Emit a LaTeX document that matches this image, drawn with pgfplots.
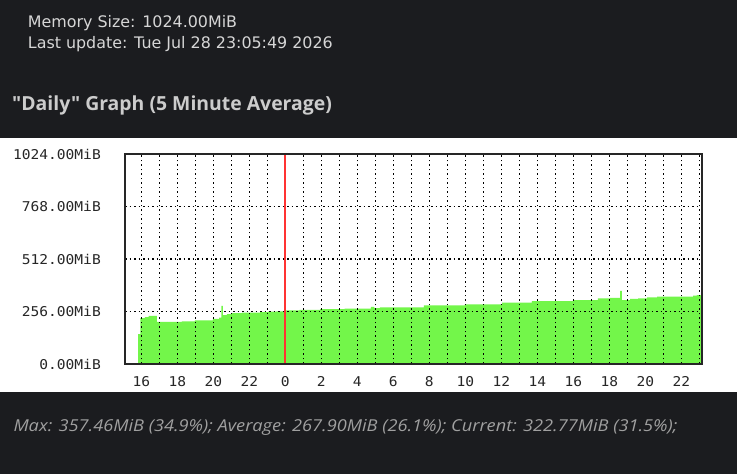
\documentclass[border=0pt]{standalone}
\usepackage{fontspec}
\usepackage{pgfplots}
\pgfplotsset{compat=1.18}
\setmainfont{Open Sans}
\newfontfamily\hdrf{DejaVu Sans}
\newfontfamily\ttlf[Ligatures=TeXOff]{Open Sans}
\newfontfamily\footf[FakeStretch=1.11]{Open Sans}
\newfontfamily\monof[FakeStretch=1.08]{DejaVu Sans Mono}
\definecolor{bg}{RGB}{27,28,31}
\definecolor{hdr}{RGB}{214,214,214}
\definecolor{ttl}{RGB}{204,204,204}
\definecolor{ftr}{RGB}{160,160,160}
\definecolor{mrtggreen}{RGB}{115,246,74}
\begin{document}
\begin{tikzpicture}[x=1pt,y=1pt]
\fill[bg] (0,0) rectangle (737,474);
\fill[white] (0,82) rectangle (737,336);
\node[anchor=base west, inner sep=0, text=hdr, font=\hdrf\fontsize{15.9}{18}\selectfont] at (27.7,446.7) {Memory Size: 1024.00MiB};
\node[anchor=base west, inner sep=0, text=hdr, font=\hdrf\fontsize{15.9}{18}\selectfont] at (27.7,425.3) {Last update: Tue Jul 28 23:05:49 2026};
\node[anchor=base west, inner sep=0, text=ttl, font=\ttlf\fontsize{19.4}{22}\selectfont\bfseries] at (12,363) {"Daily" Graph (5 Minute Average)};
\node[anchor=base west, inner sep=0, text=ftr, font=\footf\fontsize{16.4}{18}\selectfont\itshape] at (13.3,42.3) {Max: 357.46MiB (34.9\%); Average: 267.90MiB (26.1\%); Current: 322.77MiB (31.5\%);};
\begin{axis}[
  at={(125pt,110pt)}, anchor=south west,
  scale only axis, width=577pt, height=210pt,
  xmin=15.094, xmax=47.15, ymin=0, ymax=1024,
  axis on top,
  axis line style={line width=1.5pt, draw=black!85},
  xtick={16,18,...,46},
  xticklabels={16,18,20,22,0,2,4,6,8,10,12,14,16,18,20,22},
  minor xtick={16,17,18,19,20,21,22,23,25,26,27,28,29,30,31,32,33,34,35,36,37,38,39,40,41,42,43,44,45,46,47},
  ytick={0,256,512,768,1024},
  yticklabels={0.00MiB,256.00MiB,512.00MiB,768.00MiB,1024.00MiB},
  xmajorgrids=false, xminorgrids=true, ymajorgrids=true,
  major tick length=0pt, minor tick length=0pt,
  grid style={draw=black, line width=1.5pt, dash pattern=on 1.5pt off 3pt},
  minor grid style={draw=black, line width=1.5pt, dash pattern=on 1.5pt off 3pt},
  /pgf/number format/assume math mode=true,
  ticklabel style={font=\monof\fontsize{13.5}{14}\selectfont, text=black!85},
  xticklabel style={anchor=north, inner sep=0pt, yshift=-12pt},
  yticklabel style={anchor=east, inner sep=0pt, xshift=-24pt},
]
\addplot[const plot, fill=mrtggreen, draw=none] coordinates {
(15.83,146) (15.95,224) (16.20,229) (16.40,235) (16.87,205) (17.60,206)
(18.26,208) (18.98,213) (19.98,220) (20.32,226) (20.45,283) (20.53,238)
(20.75,243) (21.04,248) (21.60,250) (22.04,251) (22.60,253) (23.04,255)
(23.50,257) (24.00,262) (24.80,264) (25.93,268) (27.30,270) (28.76,279)
(28.95,273) (29.25,276) (31.70,286) (33.98,291) (36.04,299) (37.70,307)
(39.98,312) (41.37,320) (42.04,323) (42.60,357) (42.70,312) (43.15,318)
(43.60,320) (44.10,325) (44.65,328) (46.65,333) (46.86,336) (47.09,336)
} \closedcycle;
\addplot[red!80!white, line width=2pt, forget plot] coordinates {(24,0) (24,1024)};
\end{axis}
\end{tikzpicture}
\end{document}
